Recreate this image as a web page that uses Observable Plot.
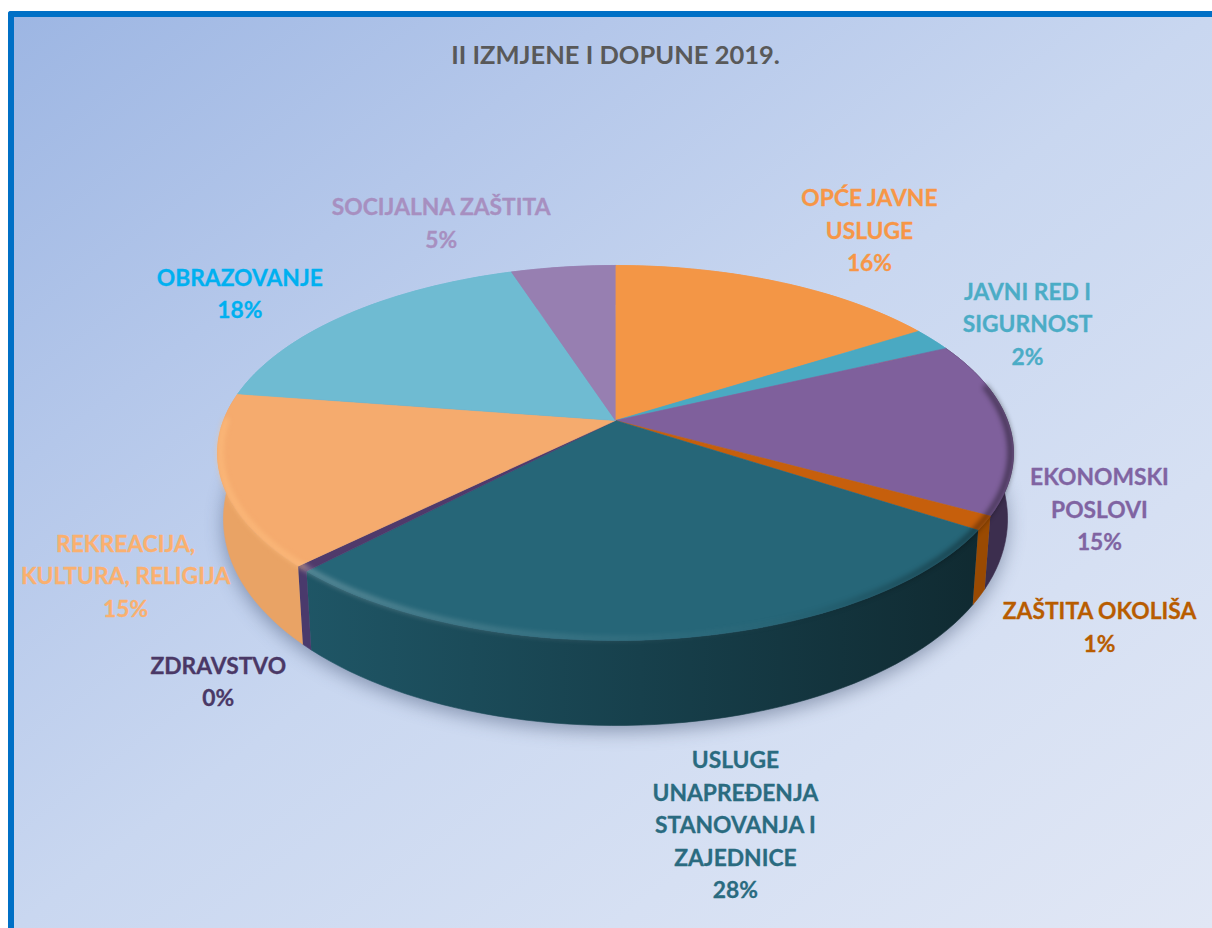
<!DOCTYPE html>
<html>
<head>
<meta charset="utf-8">
<script src="https://cdn.jsdelivr.net/npm/d3@7"></script>
<script src="https://cdn.jsdelivr.net/npm/@observablehq/plot@0.6"></script>
<style>
  html, body { margin: 0; padding: 0; background: #fff; overflow: hidden; width: 1212px; height: 928px; }
  #panel { position: absolute; left: 8px; top: 11px; width: 1198px; height: 911px; border-top: 6px solid #0070c6; border-left: 6px solid #0070c6; border-top-left-radius: 3px; background: linear-gradient(to bottom right, #9db6e3 0%, #b4c7ea 25%, #c9d7f0 50%, #d6e0f3 75%, #e1e7f5 100%); }
  #title { position: absolute; left: 0; top: 39px; width: 1231px; text-align: center; font: bold 25.5px Lato, sans-serif; color: #595959; }
  #chart { position: absolute; left: 0; top: 0; }
  #chart svg { display: block; background: transparent; }
</style>
</head>
<body>
<div id="panel"></div>
<div id="chart"></div>
<div id="title">II IZMJENE I DOPUNE 2019.</div>
<script>
const names = ["OPĆE JAVNE\nUSLUGE", "JAVNI RED I\nSIGURNOST", "EKONOMSKI\nPOSLOVI", "ZAŠTITA OKOLIŠA", "USLUGE\nUNAPREĐENJA\nSTANOVANJA I\nZAJEDNICE", "ZDRAVSTVO", "REKREACIJA,\nKULTURA, RELIGIJA", "OBRAZOVANJE", "SOCIJALNA ZAŠTITA"];
const shares = [16, 2, 15, 1.2, 27.9, 0.49, 14.81, 17.6, 5];
const topColors = ["#f39646", "#4aa9c2", "#7f609c", "#c65f0c", "#266678", "#4f3a6b", "#f5ab6e", "#6fbbd2", "#977fb1"];
const wallColors = ["#f39646", "#4aa9c2", "#3c2e4e", "#9a4a02", "url(#tealWall)", "#4a3a6c", "#e9a365", "#6fbbd2", "#977fb1"];
const textColors = ["#f79646", "#4bacc6", "#8064a2", "#b85c00", "#2a6b80", "#4a3866", "#fab06f", "#00b0f0", "#a78fc0"];
const labelShiftX = [90, 95, 90, 115, 65, -84, -96, -107, -122];
const labelShiftY = [-54, -18, 81, 102, 184, 111, 94, -23, -46];

// perspective view of the flat pie: unit disc -> picture
const view = { cx: 615, cy: 420, d: 392, a: -109.1, c: 0.1733 };
function rim(pct, r = 1) {
  const t = pct * 3.6 * Math.PI / 180, X = r * Math.sin(t), Y = r * Math.cos(t), w = 1 + view.c * Y;
  return { x: view.cx + view.d * X / w, y: (view.a * Y + view.cy) / w, Y };
}
function base(pct) {
  const p = rim(pct);
  return { x: view.cx + (p.x - view.cx) * 0.985, y: p.y + 62 - 23 * p.Y };
}
const steps = (a, b) => d3.range(0, 1.0001, 1 / Math.max(2, Math.ceil((b - a) * 2))).map(f => a + (b - a) * f);

const starts = d3.cumsum([0, ...shares]);
const tops = [], walls = [], labels = [], bodyOutline = [];
names.forEach((name, i) => {
  const a = starts[i], b = starts[i + 1];
  tops.push({ k: i, color: topColors[i], x: view.cx, y: view.cy });
  steps(a, b).forEach(p => { const q = rim(p); tops.push({ k: i, color: topColors[i], x: q.x, y: q.y }); });
  steps(a, b).forEach(p => { const q = rim(p); walls.push({ k: i, color: wallColors[i], x: q.x, y: q.y }); });
  steps(a, b).reverse().forEach(p => { const q = base(p); walls.push({ k: i, color: wallColors[i], x: q.x, y: q.y }); });
  const m = rim((a + b) / 2);
  labels.push({ x: m.x + labelShiftX[i], y: m.y + labelShiftY[i], color: textColors[i], text: name + "\n" + d3.format(".0f")(shares[i]) + "%" });
});
steps(0, 100).forEach(p => { const q = base(p); bodyOutline.push({ x: q.x, y: q.y + 6 }); });
const bevel = steps(22, 75).map(p => { const q = rim(p, 0.993); return { x: q.x, y: q.y }; });

function defs() {
  const s = d3.create("svg:defs");
  const grad = (id, x1, x2, stops) => {
    const g = s.append("linearGradient").attr("id", id).attr("gradientUnits", "userSpaceOnUse")
      .attr("x1", x1).attr("x2", x2).attr("y1", 0).attr("y2", 0);
    stops.forEach(([o, c, a]) => g.append("stop").attr("offset", o).attr("stop-color", c).attr("stop-opacity", a));
  };
  grad("tealWall", 300, 980, [[0, "#1f5666", 1], [0.5, "#17404c", 1], [1, "#102a31", 1]]);
  grad("bevelStroke", 217, 1015, [[0, "#ffc080", 0.55], [0.105, "#ffc080", 0.55], [0.115, "#ffffff", 0.24], [0.35, "#ffffff", 0.12], [0.6, "#ffffff", 0.03], [0.75, "#000000", 0.06], [1, "#000000", 0.45]]);
  return s.node();
}

const chart = Plot.plot({
  width: 1212, height: 928, margin: 0,
  x: { domain: [0, 1212], range: [0, 1212], axis: null },
  y: { domain: [0, 928], range: [0, 928], axis: null },
  color: { type: "identity" },
  style: { background: "transparent" },
  marks: [
    defs,
    Plot.line(bodyOutline, { x: "x", y: "y", fill: "#1e2c50", stroke: "none", fillOpacity: 0.38, imageFilter: "blur(9px)" }),
    Plot.line(walls, { x: "x", y: "y", z: "k", fill: "color", stroke: "color", strokeWidth: 0.6 }),
    Plot.line(tops, { x: "x", y: "y", z: "k", fill: "color", stroke: "color", strokeWidth: 0.6 }),
    Plot.line(bevel, { x: "x", y: "y", stroke: "url(#bevelStroke)", strokeWidth: 6, imageFilter: "blur(2.5px)" }),
    Plot.text(labels, { x: "x", y: "y", text: "text", fill: "color", stroke: "color", strokeWidth: 0.3, fontFamily: "Lato", fontWeight: "bold", fontSize: 22.8, lineHeight: 1.425, lineAnchor: "middle", textAnchor: "middle" })
  ]
});
document.getElementById("chart").append(chart);
</script>
</body>
</html>
